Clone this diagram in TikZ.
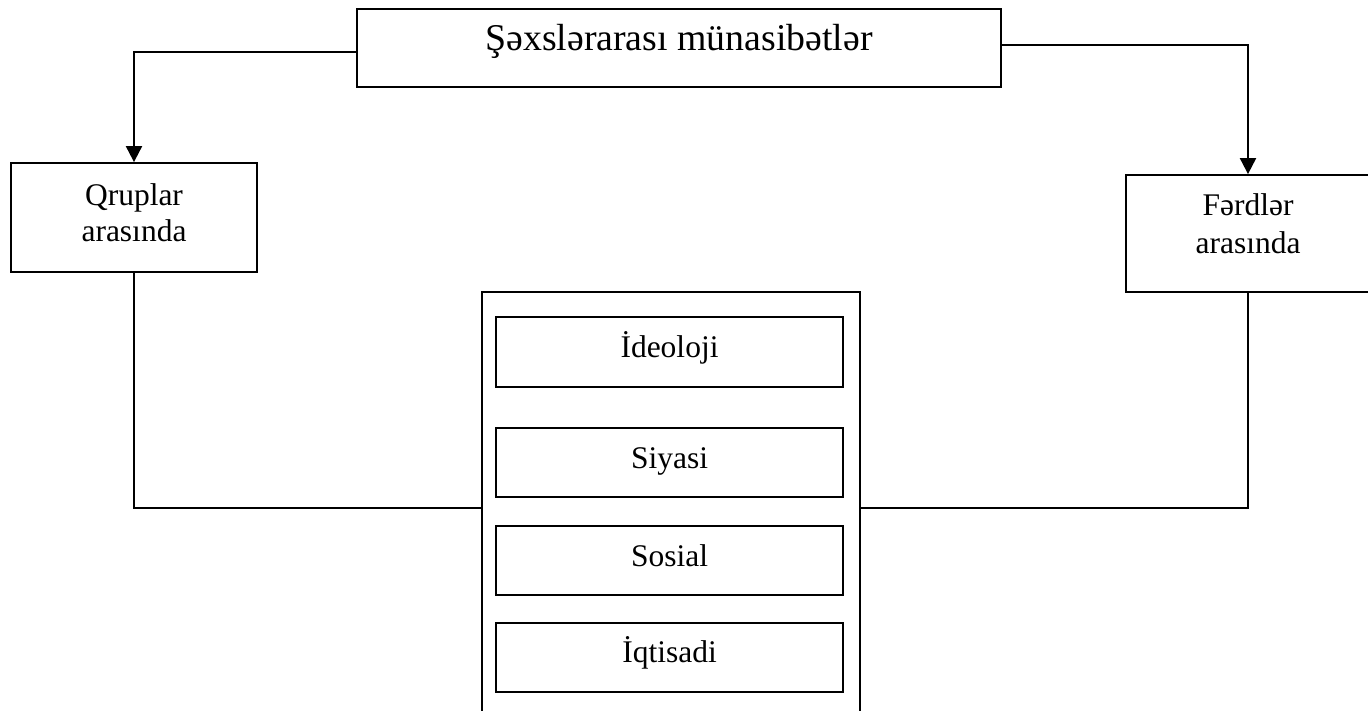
\documentclass[tikz,border=0pt]{standalone}
\usepackage{fontspec}
\setmainfont{Liberation Serif}
\usetikzlibrary{arrows.meta}
\begin{document}
\begin{tikzpicture}[x=1pt,y=-1pt,
  box/.style={draw, line width=1.8pt, inner sep=0pt},
  lbl/.style={anchor=base, inner sep=0pt, font=\fontsize{31.5}{36}\selectfont},
  conn/.style={line width=2pt},
  arr/.style={conn, -{Triangle[length=16pt,width=16pt]}}]
\useasboundingbox (0,0) rectangle (1368,710);
\clip (0,0) rectangle (1368,710);
\fill[white] (0,0) rectangle (1368,710);
% main boxes
\node[box, minimum width=644pt, minimum height=78pt] (top) at (679,48) {};
\node[lbl, font=\fontsize{37.8}{40}\selectfont] (toptxt) at (679,50) {Şəxslərarası münasibətlər};
\node[box, minimum width=246pt, minimum height=109pt] (qrup) at (134,217.5) {};
\node[lbl] (qrup1) at (134,205.7) {Qruplar};
\node[lbl] (qrup2) at (134,241.7) {arasında};
\node[box, minimum width=244pt, minimum height=117pt] (ferd) at (1248,233.5) {};
\node[lbl] (ferd1) at (1248,215) {Fərdlər};
\node[lbl] (ferd2) at (1248,253) {arasında};
\node[box, minimum width=378pt, minimum height=468pt] (big) at (671,526) {};
% inner boxes
\node[box, minimum width=347pt, minimum height=70pt] (ideo) at (669.5,352) {};
\node[lbl] (ideotxt) at (669.5,357.3) {İdeoloji};
\node[box, minimum width=347pt, minimum height=69pt] (siya) at (669.5,462.5) {};
\node[lbl] (siyatxt) at (669.5,468) {Siyasi};
\node[box, minimum width=347pt, minimum height=69pt] (sosi) at (669.5,560.5) {};
\node[lbl] (sositxt) at (669.5,566) {Sosial};
\node[box, minimum width=347pt, minimum height=69pt] (iqti) at (669.5,657.5) {};
\node[lbl] (iqtitxt) at (669.5,662.7) {İqtisadi};
% connectors
\draw[arr] ([yshift=-4pt]top.west) -| (qrup.north);
\draw[arr] ([yshift=3pt]top.east) -| (ferd.north);
\coordinate (jl) at (134,508);
\coordinate (jr) at (1248,508);
\draw[conn] (qrup.south) -- (jl) -- (big.west |- jl);
\draw[conn] (ferd.south) -- (jr) -- (big.east |- jr);
\end{tikzpicture}
\end{document}
